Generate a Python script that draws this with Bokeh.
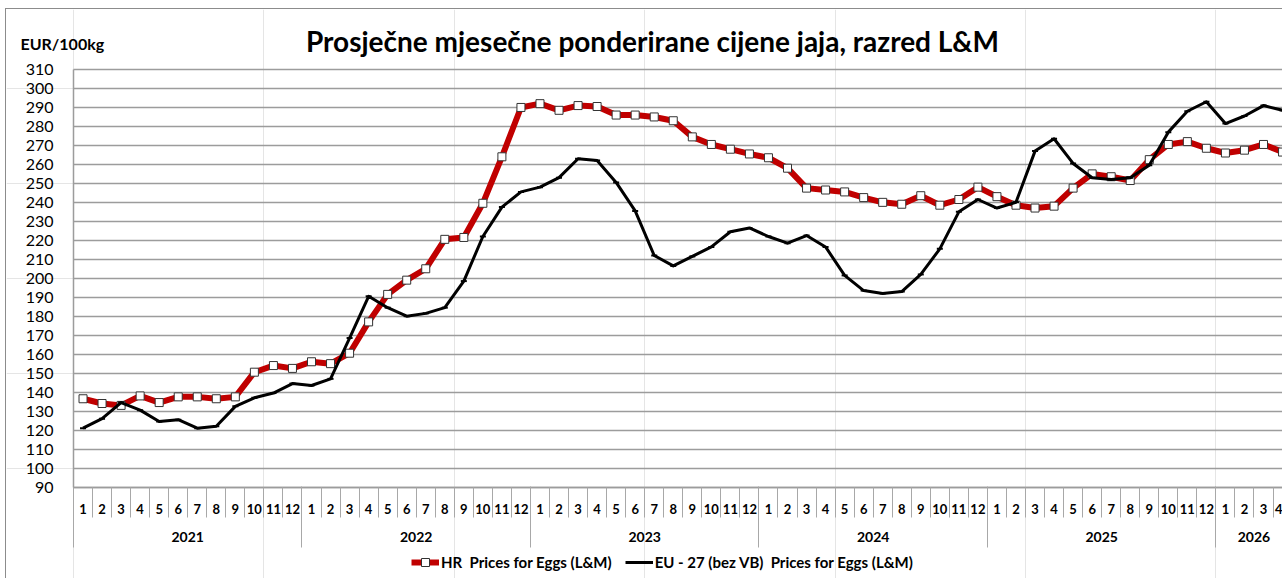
import numpy as np
from bokeh.plotting import figure
from bokeh.models import (Range1d, LinearAxis, FixedTicker, Label, Legend, LegendItem, Grid)
from bokeh.embed import file_html
from bokeh.resources import INLINE

# ---------------- data ----------------
years = ["2021", "2022", "2023", "2024", "2025", "2026"]
months_per_year = [12, 12, 12, 12, 12, 4]

hr = [136.5, 134, 133, 138, 134.5, 137.5, 137.5, 136.5, 137.5, 150.5, 154, 152.5,
      156, 155, 160.5, 177, 191.5, 199, 205, 220.5, 221.5, 239.5, 264, 290,
      292, 288.5, 291, 290.5, 286, 286, 285, 283, 274.5, 270.5, 268, 265.5,
      263.5, 258, 247.5, 246.5, 245.5, 242.5, 240, 239, 243.5, 238.5, 241.5, 248,
      243, 238.5, 237, 238, 247.5, 255, 253.5, 251.5, 262.5, 270.5, 272, 268.5,
      266, 267.5, 270.5, 266.5]

eu = [121, 126, 134.5, 130.5, 124.5, 125.5, 121, 122, 132.5, 137, 139.5, 144.5,
      143.5, 147, 168.5, 190.5, 184.5, 180, 181.5, 184.5, 198.5, 222, 237.5, 245.5,
      248, 253, 263, 262, 250.5, 235.5, 212, 206.5, 211.5, 216.5, 224.5, 226.5,
      222, 218.5, 222.5, 216.5, 201.5, 193.5, 192, 193, 202, 215.5, 235, 241.5,
      237, 240, 267, 273.5, 260.5, 253, 252, 253, 259.5, 277, 288, 293,
      281.5, 285.5, 291, 288.5]

y_ticks = list(range(90, 320, 10))

title_text = "Prosječne mjesečne ponderirane cijene jaja, razred L&M"
unit_text = "EUR/100kg"
hr_label = "HR  Prices for Eggs (L&M)"
eu_label = "EU - 27 (bez VB)  Prices for Eggs (L&M)"

# ---------------- derived positions ----------------
month_labels = []
for n in months_per_year:
    month_labels += [str(m) for m in range(1, n + 1)]
n_months = len(month_labels)
x = [i + 0.5 for i in range(n_months)]
month_bounds = list(range(0, n_months + 1))

year_starts = list(np.cumsum([0] + months_per_year[:-1]))
year_centers = [float(s + n / 2) for s, n in zip(year_starts, months_per_year)]
year_bounds = [float(s) for s in year_starts]

# ---------------- layout constants ----------------
W, H = 1277, 570
X0, X1 = -3.519, 63.55          # frame == whole canvas
Y0, Y1 = 41.26, 341.62
Y_MIN, Y_MAX = 90, 310
YEAR_AXIS_Y = 76.56

FONT = "Lato"
GRID = "#9c9c9c"
SEP = "#a8a8a8"
TXT = "black"

p = figure(width=W, height=H, output_backend="svg", toolbar_location=None,
           x_range=Range1d(X0, X1), y_range=Range1d(Y0, Y1),
           x_axis_location=None, y_axis_location=None,
           min_border_left=0, min_border_right=0, min_border_top=0,
           min_border_bottom=0)
p.outline_line_color = None
p.styles = {"border-left": "1px solid #8c8c8c", "border-top": "1px solid #8c8c8c",
            "margin-left": "5px", "margin-top": "8px"}

# y axis (value axis)
yax = LinearAxis(ticker=FixedTicker(ticks=y_ticks), fixed_location=0,
                 bounds=(Y_MIN, Y_MAX), major_tick_out=0, major_tick_in=0,
                 minor_tick_out=0, minor_tick_in=0, axis_line_color=GRID,
                 axis_line_width=1.5, major_label_text_font=FONT,
                 major_label_text_font_size="16px", major_label_text_color=TXT,
                 major_label_standoff=20)
p.add_layout(yax, "left")
p.add_layout(Grid(dimension=1, ticker=FixedTicker(ticks=y_ticks),
                  cross_bounds=(0, X1),
                  grid_line_color=GRID, grid_line_width=1.5))

# month axis
max_ = LinearAxis(ticker=FixedTicker(ticks=x, minor_ticks=month_bounds),
                  fixed_location=Y_MIN, bounds=(0, X1),
                  major_label_overrides={xi: lab for xi, lab in zip(x, month_labels)},
                  major_tick_out=0, major_tick_in=0, minor_tick_in=0, minor_tick_out=30,
                  minor_tick_line_color=SEP, minor_tick_line_width=1,
                  axis_line_color=GRID, axis_line_width=1.5,
                  major_label_text_font=FONT, major_label_text_font_style="bold",
                  major_label_text_font_size="13px", major_label_text_color=TXT,
                  major_label_standoff=-13)
p.add_layout(max_, "below")

# year axis
yrax = LinearAxis(ticker=FixedTicker(ticks=year_centers, minor_ticks=year_bounds),
                  fixed_location=YEAR_AXIS_Y, bounds=(0, X1),
                  major_label_overrides={c: y for c, y in zip(year_centers, years)},
                  major_tick_out=0, major_tick_in=0, minor_tick_in=26, minor_tick_out=35,
                  minor_tick_line_color=SEP, minor_tick_line_width=1,
                  axis_line_color=None,
                  major_label_text_font=FONT, major_label_text_font_style="bold",
                  major_label_text_font_size="14px", major_label_text_color=TXT,
                  major_label_standoff=-16)
p.add_layout(yrax, "below")

# series
r1 = p.line(x, hr, line_color="#c00000", line_width=6, line_join="round")
r1m = p.scatter(x, hr, marker="square", size=8, fill_color="white",
                line_color="#333333", line_width=1)
r2 = p.line(x, eu, line_color="black", line_width=3, line_join="round")
p.scatter(x, eu, marker="dash", size=6, line_color="black", line_width=2)

legend = Legend(items=[LegendItem(label=hr_label, renderers=[r1, r1m]),
                       LegendItem(label=eu_label, renderers=[r2])],
                orientation="horizontal", location=(405, 7),
                border_line_color=None, background_fill_alpha=0,
                label_text_font=FONT, label_text_font_style="bold",
                label_text_font_size="15px", label_text_color=TXT,
                glyph_width=28, label_standoff=2,
                spacing=13, padding=2, margin=0)
p.add_layout(legend)

p.add_layout(Label(x=646, y=539, x_units="screen", y_units="screen", text=title_text,
                   text_align="center", text_baseline="alphabetic", text_font=FONT,
                   text_font_style="bold", text_font_size="28px", text_color=TXT))
p.add_layout(Label(x=14, y=536, x_units="screen", y_units="screen", text=unit_text,
                   text_align="left", text_baseline="alphabetic", text_font=FONT,
                   text_font_style="bold", text_font_size="16px", text_color=TXT))

open("out.html", "w").write(file_html(p, INLINE))
